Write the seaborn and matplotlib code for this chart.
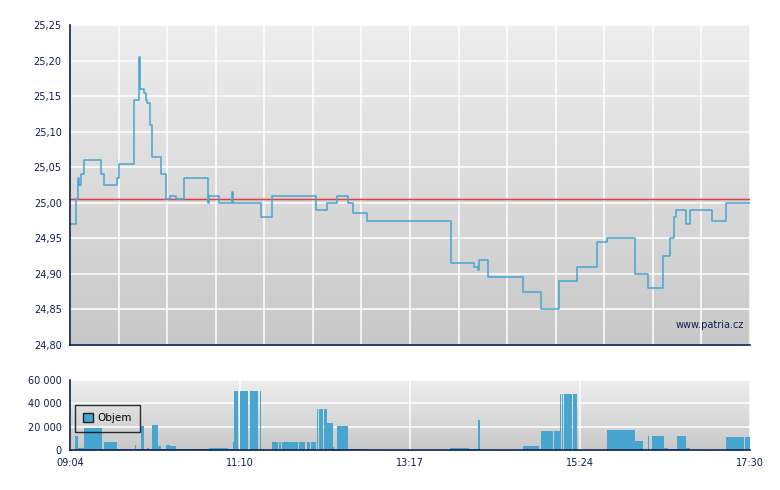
import numpy as np
import pandas as pd
import matplotlib
matplotlib.use("Agg")
import matplotlib.pyplot as plt
import seaborn as sns
from matplotlib.patches import Patch

sns.set_style("white")
plt.rcParams['font.family'] = ['DejaVu Sans']

# price steps (time of change, price)
price_times = ["09:04:00", "09:08:28", "09:09:44", "09:10:42", "09:12:11", "09:14:38",
               "09:27:04", "09:29:05", "09:38:45", "09:40:28", "09:51:51", "09:55:34",
               "09:56:05", "09:58:50", "10:00:11", "10:01:40", "10:03:32", "10:05:14",
               "10:11:43", "10:15:13", "10:18:25", "10:22:53", "10:28:50", "10:46:55",
               "10:47:26", "10:55:06", "11:04:46", "11:05:17", "11:25:54", "11:34:32",
               "12:06:50", "12:15:01", "12:22:28", "12:30:38", "12:34:49", "12:44:47",
               "13:47:17", "14:04:37", "14:07:49", "14:08:34", "14:15:16", "14:40:52",
               "14:54:16", "15:08:06", "15:21:29", "15:36:22", "15:43:22", "16:04:26",
               "16:13:53", "16:25:29", "16:30:28", "16:33:49", "16:34:34", "16:42:23",
               "16:45:21", "17:01:30", "17:12:08", "17:30:00"]
prices = [24.970, 25.005, 25.035, 25.025, 25.040, 25.060,
          25.040, 25.025, 25.035, 25.055, 25.145, 25.205,
          25.160, 25.155, 25.145, 25.140, 25.110, 25.065,
          25.040, 25.005, 25.010, 25.005, 25.035, 25.000,
          25.010, 25.000, 25.015, 25.000, 24.980, 25.010,
          24.990, 25.000, 25.010, 25.000, 24.985, 24.975,
          24.915, 24.910, 24.905, 24.920, 24.895, 24.875,
          24.850, 24.890, 24.910, 24.945, 24.950, 24.900,
          24.880, 24.925, 24.950, 24.980, 24.990, 24.970,
          24.990, 24.975, 25.000, 25.000]
prev_close = 25.005

# volume blocks (start time, volume); each block lasts until the next start
vol_times = ["09:07:43", "09:09:57", "09:14:25", "09:27:35", "09:29:18", "09:38:45",
             "09:40:28", "09:41:12", "09:52:22", "09:53:07", "09:56:36", "09:59:04",
             "10:01:04", "10:02:47", "10:04:48", "10:05:14", "10:09:16", "10:11:43",
             "10:15:13", "10:18:25", "10:22:39", "10:47:26", "11:01:48", "11:05:04",
             "11:06:02", "11:09:14", "11:10:30", "11:16:41", "11:17:57", "11:24:07",
             "11:25:23", "11:26:08", "11:34:32", "11:39:00", "11:39:31", "11:41:01",
             "11:41:45", "11:53:26", "11:54:24", "11:58:52", "12:00:08", "12:02:35",
             "12:03:20", "12:07:03", "12:07:34", "12:08:19", "12:09:04", "12:12:29",
             "12:13:14", "12:15:01", "12:19:29", "12:20:40", "12:22:41", "12:30:38",
             "12:34:22", "12:34:49", "12:40:19", "12:41:31", "12:44:47", "13:46:46",
             "14:01:08", "14:04:06", "14:06:07", "14:07:22", "14:08:52", "14:40:52",
             "14:53:13", "14:54:29", "15:03:11", "15:03:56", "15:08:37", "15:09:22",
             "15:10:06", "15:10:51", "15:11:36", "15:17:33", "15:18:18", "15:21:16",
             "15:43:36", "16:04:26", "16:10:23", "16:14:20", "16:15:04", "16:17:05",
             "16:26:01", "16:28:46", "16:35:41", "16:42:23", "16:44:23", "16:45:21",
             "17:12:08", "17:25:32", "17:26:17"]
volumes = [12000, 1500, 19000, 1000, 7200, 1200,
           0, 1000, 4000, 1000, 20200, 500,
           2000, 1200, 3000, 21600, 3500, 1000,
           4300, 3500, 600, 1500, 1000, 7000,
           51000, 0, 51000, 0, 51000, 0,
           51000, 0, 7200, 0, 7200, 0,
           7200, 0, 7200, 0, 7200, 0,
           7200, 0, 35500, 0, 35500, 0,
           35500, 22800, 3000, 600, 21000, 800,
           3000, 1000, 0, 1000, 0, 1700,
           1200, 600, 0, 26000, 0, 3500,
           1000, 16400, 0, 16400, 47900, 0,
           47900, 0, 47900, 0, 47900, 0,
           17300, 7800, 0, 12100, 0, 12100,
           1500, 600, 12100, 1500, 2000, 0,
           11200, 0, 11200]
session_end = "17:30:00"

x_labels = ["09:04", "11:10", "13:17", "15:24", "17:30"]
price_ticks = [24.80, 24.85, 24.90, 24.95, 25.00, 25.05, 25.10, 25.15, 25.20, 25.25]
vol_ticks = [0, 20000, 40000, 60000]

open_t = pd.to_timedelta("09:04:00")
def to_min(ts):
    return (pd.to_timedelta(pd.Series(ts)) - open_t).dt.total_seconds().to_numpy() / 60

pdf = pd.DataFrame({"t": to_min(price_times), "price": prices})
vdf = pd.DataFrame({"t": to_min(vol_times), "vol": volumes})
t_end = to_min([session_end])[0]
edges = list(vdf["t"]) + [t_end]

navy = "#0B1F4F"
blue = "#47A5CF"

fig = plt.figure(figsize=(7.8, 4.9), dpi=100)
ax = fig.add_axes([70/780, 1-345/490, 680/780, 320/490])
ax2 = fig.add_axes([70/780, 1-450/490, 680/780, 70/490])

grad = np.linspace(0, 1, 256).reshape(-1, 1)
gcmap = matplotlib.colors.LinearSegmentedColormap.from_list("g", ["#EEEEEE", "#C8C8C8"])
for a in (ax, ax2):
    a.imshow(grad, extent=[0, 1, 0, 1], transform=a.transAxes, aspect="auto",
             cmap=gcmap, zorder=0)
    a.set_axisbelow(True)

# price
ax.axhline(prev_close, color="#E08080", lw=2.5, alpha=0.3, zorder=3)
ax.axhline(prev_close, color="#D04545", lw=0.9, zorder=3)
sns.lineplot(data=pdf, x="t", y="price", ax=ax, drawstyle="steps-post",
             color=blue, lw=1.1, zorder=4)

grid_pos = np.linspace(0, t_end, 15)
ax.set_xlim(0, t_end)
ax.set_ylim(24.80, 25.25)
ax.set_xticks(grid_pos)
ax.set_xticklabels([])
ax.set_yticks(price_ticks)
ax.set_yticklabels([f"{v:.2f}".replace(".", ",") for v in price_ticks])
ax.grid(True, color="white", lw=1.1)
ax.set_xlabel("")
ax.set_ylabel("")
ax.text(0.991, 0.052, "www.patria.cz", transform=ax.transAxes, ha="right",
        va="baseline", fontsize=7, color=navy)

# volume
sns.histplot(data=vdf, x="t", weights="vol", bins=edges, ax=ax2, color=blue,
             alpha=1, linewidth=0, zorder=3)
ax2.set_xlim(0, t_end)
ax2.set_ylim(0, 60000)
ax2.set_xticks(np.linspace(0, t_end, 5))
ax2.set_xticklabels(x_labels)
ax2.set_yticks(vol_ticks)
ax2.set_yticklabels([f"{v:,}".replace(",", " ") for v in vol_ticks])
ax2.grid(True, color="white", lw=1.1)
ax2.set_xlabel("")
ax2.set_ylabel("")
leg = ax2.legend(handles=[Patch(facecolor=blue, edgecolor="#222222", label="Objem")],
                 loc="upper left", bbox_to_anchor=(0.0074, 0.643), borderaxespad=0,
                 frameon=True, fancybox=False, edgecolor="black",
                 handlelength=0.9, handleheight=0.9, handletextpad=0.4,
                 fontsize=7.5, labelcolor="black", borderpad=0.8)
leg.get_frame().set_facecolor("none")
leg.get_frame().set_linewidth(1.0)
leg.set_zorder(10)

for a in (ax, ax2):
    for s in ("top", "right"):
        a.spines[s].set_visible(False)
    for s in ("left", "bottom"):
        a.spines[s].set_color(navy)
        a.spines[s].set_linewidth(1.2)
        a.spines[s].set_zorder(5)
    a.tick_params(colors=navy, labelsize=7, length=4, width=1, direction="out", pad=2)
ax.tick_params(axis="x", length=3)

fig.savefig("out.png", dpi=100)
